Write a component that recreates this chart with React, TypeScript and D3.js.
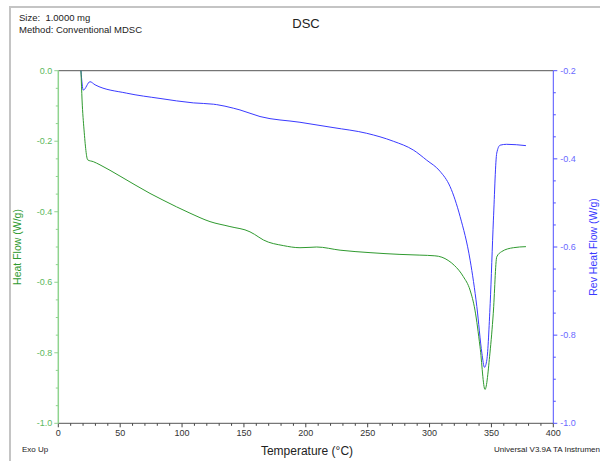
import React from "react";
import * as d3 from "d3";

const W = 600;
const H = 461;

// Heat Flow (W/g), left axis — [temperature °C, value]
const heatFlowT = [18.3, 19.2, 20.8, 23.8, 28.3, 33.7, 49.9, 74.1, 84.6, 106.4, 122.6, 138.7, 154.9, 158.5, 165.7, 181.8, 195.3, 203.4, 208.8, 227.7, 251.9, 276.1, 292.2, 304.3, 310.0, 315.0, 320.0, 327.3, 332.7, 336.7, 340.8, 344.8, 348.8, 351.5, 354.3, 358.3, 367.7, 377.9];
const heatFlowV = [0.0, -0.083, -0.168, -0.253, -0.258, -0.267, -0.299, -0.348, -0.367, -0.404, -0.428, -0.442, -0.457, -0.464, -0.48, -0.496, -0.502, -0.501, -0.5, -0.509, -0.516, -0.521, -0.523, -0.525, -0.529, -0.538, -0.552, -0.584, -0.622, -0.679, -0.783, -0.904, -0.801, -0.688, -0.528, -0.513, -0.502, -0.499];

// Rev Heat Flow (W/g), right axis
const revT = [18.3, 20.2, 25.6, 29.7, 55.3, 82.2, 109.1, 125.3, 128.0, 141.4, 146.8, 163.0, 195.3, 222.0, 249.2, 270.7, 286.9, 297.7, 308.4, 316.6, 324.7, 332.8, 338.2, 342.3, 344.4, 346.3, 349.0, 351.6, 354.3, 357.0, 362.3, 377.9];
const revV = [-0.2, -0.244, -0.225, -0.232, -0.251, -0.263, -0.273, -0.276, -0.277, -0.285, -0.289, -0.304, -0.317, -0.329, -0.342, -0.36, -0.38, -0.403, -0.428, -0.463, -0.531, -0.63, -0.735, -0.841, -0.873, -0.856, -0.728, -0.539, -0.387, -0.369, -0.367, -0.37];

const xTicks = [0, 50, 100, 150, 200, 250, 300, 350, 400];
const leftTicks = [0.0, -0.2, -0.4, -0.6, -0.8, -1.0];
const rightTicks = [-0.2, -0.4, -0.6, -0.8, -1.0];

const M = { left: 58.3, right: 553.3, top: 70.7, bottom: 423.3 };

const GREEN = "#2f9a2f";
const GREEN_AXIS = "#8fd48f";
const GREEN_TEXT = "#5cb85c";
const BLUE = "#3a3aff";
const BLUE_AXIS = "#5050ff";
const BLUE_TEXT = "#6a6aff";
const FONT = "Liberation Sans, Arial, sans-serif";

export default function App() {
  const x = d3.scaleLinear().domain([0, 400]).range([M.left, M.right]);
  const yL = d3.scaleLinear().domain([-1.0, 0.0]).range([M.bottom, M.top]);
  const yR = d3.scaleLinear().domain([-1.0, -0.2]).range([M.bottom, M.top]);

  const hf = heatFlowT.map((t, i) => [t, heatFlowV[i]] as [number, number]);
  const rv = revT.map((t, i) => [t, revV[i]] as [number, number]);

  const lineL = d3.line<[number, number]>().x((d) => x(d[0])).y((d) => yL(d[1])).curve(d3.curveMonotoneX);
  const lineR = d3.line<[number, number]>().x((d) => x(d[0])).y((d) => yR(d[1])).curve(d3.curveMonotoneX);

  const xMinor = d3.range(0, 401, 10).filter((v) => v % 50 !== 0);
  const lMinor = d3.range(0, 21).map((i) => -i * 0.05).filter((_, i) => i % 4 !== 0);
  const rMinor = d3.range(0, 17).map((i) => -0.2 - i * 0.05).filter((_, i) => i % 4 !== 0);

  return (
    <svg
      width={W}
      height={H}
      style={{ position: "absolute", left: 0, top: 0, background: "#fff" }}
      fontFamily={FONT}
    >
      <rect x={0} y={0} width={W} height={H} fill="#fff" />
      {/* frame */}
      <line x1={9} x2={W} y1={7} y2={7} stroke="#c4c4c4" strokeWidth={2} />
      <line x1={10} x2={10} y1={6} y2={H} stroke="#c4c4c4" strokeWidth={2} />

      {/* header */}
      <text x={19} y={21} fontSize={9.5} fill="#222">{"Size:\u00a0\u00a01.0000 mg"}</text>
      <text x={19} y={33} fontSize={9.5} fill="#222">Method: Conventional MDSC</text>
      <text x={306} y={28} fontSize={13} fill="#222" textAnchor="middle">DSC</text>

      {/* top & bottom axes */}
      <line x1={M.left} x2={M.right} y1={M.top} y2={M.top} stroke="#555" strokeWidth={1} />
      <line x1={M.left} x2={M.right} y1={M.bottom} y2={M.bottom} stroke="#555" strokeWidth={1} />
      {xTicks.map((t) => (
        <g key={"xt" + t}>
          <line x1={x(t)} x2={x(t)} y1={M.bottom} y2={M.bottom + 4} stroke="#444" />
          <text x={x(t)} y={M.bottom + 13} fontSize={9} fill="#333" textAnchor="middle">{t}</text>
        </g>
      ))}
      {xMinor.map((t) => (
        <line key={"xm" + t} x1={x(t)} x2={x(t)} y1={M.bottom} y2={M.bottom + 2.5} stroke="#444" />
      ))}

      {/* left axis */}
      <line x1={M.left} x2={M.left} y1={M.top} y2={M.bottom} stroke={GREEN_AXIS} strokeWidth={1.5} />
      {leftTicks.map((t) => (
        <g key={"lt" + t}>
          <line x1={M.left - 4} x2={M.left} y1={yL(t)} y2={yL(t)} stroke={GREEN_AXIS} />
          <text x={M.left - 6} y={yL(t) + 3} fontSize={9} fill={GREEN_TEXT} textAnchor="end">{t.toFixed(1)}</text>
        </g>
      ))}
      {lMinor.map((t, i) => (
        <line key={"lm" + i} x1={M.left - 2.5} x2={M.left} y1={yL(t)} y2={yL(t)} stroke={GREEN_AXIS} />
      ))}
      <text
        transform={`translate(21,247) rotate(-90)`}
        fontSize={10.5}
        fill={GREEN}
        textAnchor="middle"
      >Heat Flow (W/g)</text>

      {/* right axis */}
      <line x1={M.right} x2={M.right} y1={M.top} y2={M.bottom} stroke={BLUE_AXIS} strokeWidth={1} />
      {rightTicks.map((t) => (
        <g key={"rt" + t}>
          <line x1={M.right} x2={M.right + 4} y1={yR(t)} y2={yR(t)} stroke={BLUE_AXIS} />
          <text x={M.right + 7} y={yR(t) + 3} fontSize={9} fill={BLUE_TEXT}>{t.toFixed(1)}</text>
        </g>
      ))}
      {rMinor.map((t, i) => (
        <line key={"rm" + i} x1={M.right} x2={M.right + 2.5} y1={yR(t)} y2={yR(t)} stroke={BLUE_AXIS} />
      ))}
      <text
        transform={`translate(597,247) rotate(-90)`}
        fontSize={10.5}
        fill={BLUE}
        textAnchor="middle"
      >Rev Heat Flow (W/g)</text>

      {/* curves */}
      <path d={lineR(rv) ?? ""} fill="none" stroke={BLUE} strokeWidth={1} />
      <path d={lineL(hf) ?? ""} fill="none" stroke={GREEN} strokeWidth={1} />

      {/* footer */}
      <text x={22} y={452} fontSize={8} fill="#222">Exo Up</text>
      <text x={307} y={455} fontSize={12} fill="#222" textAnchor="middle">Temperature (°C)</text>
      <text x={494} y={452} fontSize={8} fill="#222">Universal V3.9A TA Instrumen</text>
    </svg>
  );
}
